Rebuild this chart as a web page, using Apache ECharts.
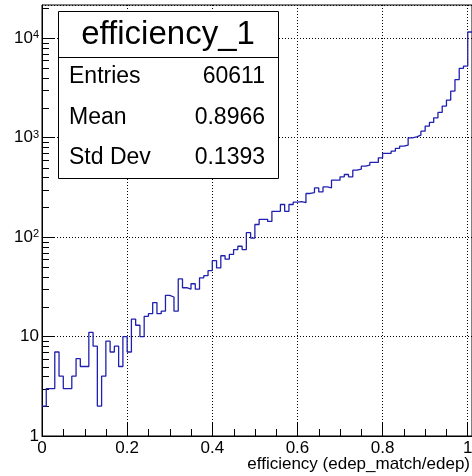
<!DOCTYPE html>
<html><head><meta charset="utf-8">
<script src="https://cdn.jsdelivr.net/npm/echarts@6/dist/echarts.min.js"></script>
<style>html,body{margin:0;padding:0;background:#fff}#c{width:472px;height:476px}</style>
</head><body><div id="c"></div>
<script>
// histogram: 101 bins of width 0.01 starting at 0
const xMin = 0;
const binWidth = 0.01;
const binCounts = [
  2, 3, 3, 7, 4, 3, 3, 4, 6, 5, 5, 11, 8, 2, 4, 9, 7, 8, 5, 10,
  7, 15, 13, 10, 16, 17, 22, 17, 18, 26, 25, 18, 38, 31, 30, 34, 30, 39, 41, 46,
  58, 49, 65, 60, 67, 75, 81, 75, 111, 98, 134, 151, 151, 144, 182, 182, 213, 182, 213, 225,
  228, 222, 275, 281, 313, 285, 320, 313, 374, 374, 404, 427, 404, 472, 483, 518, 530, 564, 564, 628,
  695, 695, 733, 780, 823, 842, 997, 1020, 1062, 1165, 1309, 1426, 1586, 1798, 2080, 2390, 2945, 3850, 4990, 5260,
  11570
];
const xAxisMax = 1.01;
const yAxisMin = 1;
const yAxisMax = 21630;
const xMinorTickValues = [0.05,0.1,0.15,0.25,0.3,0.35,0.45,0.5,0.55,0.65,0.7,0.75,0.85,0.9,0.95];
const yMinorMultipliers = [2,3,4,5,6,7,8,9];
const yDecades = [1,10,100,1000,10000];
const axisTitle = 'efficiency (edep_match/edep)';
const statsTitle = 'efficiency_1';
const statsNames = ['Entries', 'Mean', 'Std Dev'];
const statsValues = ['60611', '0.8966', '0.1393'];

const FONT = 'Liberation Sans, Arial, Helvetica, sans-serif';
const histData = binCounts.map((c, i) => [xMin + i * binWidth, c]);
histData.push([xMin + binCounts.length * binWidth, binCounts[binCounts.length - 1]]);

const yMinorVals = [];
yDecades.forEach(d => yMinorMultipliers.forEach(m => { if (d * m < yAxisMax) yMinorVals.push([0, d * m]); }));

const statsRows = [77, 118, 158];
const graphic = [
  {type:'rect', shape:{x:58.5, y:11.5, width:220, height:167}, style:{fill:'#fff', stroke:'#000', lineWidth:1}, z:100},
  {type:'line', shape:{x1:58.5, y1:57.5, x2:278.5, y2:57.5}, style:{stroke:'#000', lineWidth:1}, z:101},
  {type:'text', x:168, y:35, style:{text:statsTitle, fontSize:33, fontFamily:FONT, align:'center', verticalAlign:'middle', fill:'#000'}, z:101},
  {type:'text', x:470, y:464, style:{text:axisTitle, fontSize:17, fontFamily:FONT, align:'right', verticalAlign:'middle', fill:'#000'}, z:101}
];
statsNames.forEach((n, i) => {
  graphic.push({type:'text', x:69, y:statsRows[i], style:{text:n, fontSize:23, fontFamily:FONT, align:'left', verticalAlign:'middle', fill:'#000'}, z:101});
  graphic.push({type:'text', x:265, y:statsRows[i], style:{text:statsValues[i], fontSize:23, fontFamily:FONT, align:'right', verticalAlign:'middle', fill:'#000'}, z:101});
});

const chart = echarts.init(document.getElementById('c'), null, {renderer:'canvas'});
chart.setOption({
  animation: false,
  backgroundColor: '#fff',
  grid: {left: 42, right: 0, top: 5, bottom: 40, containLabel: false, outerBoundsMode: 'none',
         show: true, borderColor: '#000', borderWidth: 1, backgroundColor: 'transparent'},
  xAxis: {
    type: 'value', min: xMin, max: xAxisMax, interval: 0.2,
    axisLine: {onZero: false, lineStyle: {color: '#000', width: 1}},
    axisTick: {inside: true, length: 13, lineStyle: {color: '#000', width: 1}},
    splitLine: {show: true, lineStyle: {color: '#000', type: [1, 2], width: 1}},
    axisLabel: {showMaxLabel: false, margin: 4, fontSize: 17, color: '#000', fontFamily: FONT}
  },
  yAxis: {
    type: 'log', logBase: 10, min: yAxisMin, max: yAxisMax,
    axisLine: {show: true, lineStyle: {color: '#000', width: 1}},
    axisTick: {show: true, inside: true, length: 13, lineStyle: {color: '#000', width: 1}},
    splitLine: {show: true, lineStyle: {color: '#000', type: [1, 2], width: 1}},
    axisLabel: {
      showMaxLabel: false, margin: 3, color: '#000',
      formatter: v => {
        const e = Math.round(Math.log10(v));
        if (Math.abs(v - Math.pow(10, e)) > 1e-6 * v) return '';
        if (e === 0) return '{b|1}';
        if (e === 1) return '{b|10}';
        return '{b|10}{s|' + e + '}';
      },
      rich: {
        b: {fontSize: 17, fontFamily: FONT, color: '#000'},
        s: {fontSize: 11, fontFamily: FONT, color: '#000', verticalAlign: 'top'}
      }
    }
  },
  series: [
    {type: 'line', step: 'end', data: histData, symbol: 'none', showSymbol: false,
     lineStyle: {color: '#2020b0', width: 1.3}, z: 5, clip: true},
    {type: 'custom', silent: true, data: yMinorVals, z: 4,
     renderItem: (params, api) => {
       const p = api.coord([0, api.value(1)]);
       return {type: 'line', shape: {x1: p[0], y1: Math.round(p[1]) + 0.5, x2: p[0] + 7, y2: Math.round(p[1]) + 0.5}, style: {stroke: '#000', lineWidth: 1}};
     }},
    {type: 'custom', silent: true, data: xMinorTickValues.map(v => [v, 1]), z: 4,
     renderItem: (params, api) => {
       const p = api.coord([api.value(0), 1]);
       return {type: 'line', shape: {x1: Math.round(p[0]) + 0.5, y1: p[1], x2: Math.round(p[0]) + 0.5, y2: p[1] - 7}, style: {stroke: '#000', lineWidth: 1}};
     }}
  ],
  graphic: graphic
});
</script>
</body></html>
